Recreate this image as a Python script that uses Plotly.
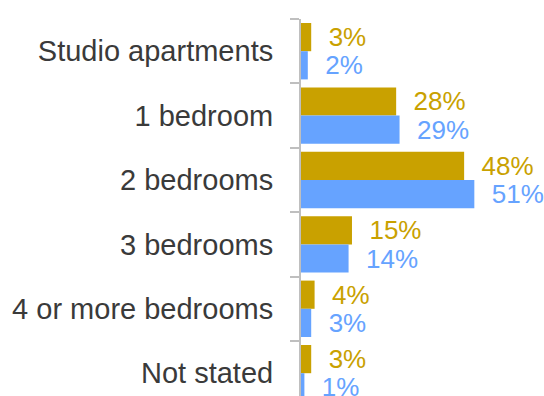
import plotly.graph_objects as go

# Dwelling size categories and share of dwellings (%) for the two series
categories = ["Studio apartments", "1 bedroom", "2 bedrooms", "3 bedrooms",
              "4 or more bedrooms", "Not stated"]
series_a = [3, 28, 48, 15, 4, 3]
series_b = [2, 29, 51, 14, 3, 1]

gold = "#C9A100"
blue = "#66A3FF"
pad = "\u00a0\u00a0"

fig = go.Figure()
for vals, col in ((series_a, gold), (series_b, blue)):
    fig.add_trace(go.Bar(
        x=vals, y=categories, orientation="h",
        marker=dict(color=col, line=dict(width=0)),
        text=[f"{pad}{v}%" for v in vals],
        textposition="outside",
        constraintext="none",
        cliponaxis=False,
        outsidetextfont=dict(color=col, size=26, family="Liberation Sans, Arial"),
        hoverinfo="skip",
        showlegend=False,
    ))

fig.update_layout(
    width=544, height=396,
    margin=dict(l=301, r=0, t=19, b=0),
    barmode="group", bargap=0.124, bargroupgap=0,
    plot_bgcolor="white", paper_bgcolor="white",
    font=dict(family="Liberation Sans, Arial", size=29, color="#3a3a3a"),
    xaxis=dict(range=[0, 71.5], visible=False, showgrid=False, zeroline=False),
    yaxis=dict(
        range=[5.354, -0.5],
        showline=True, linecolor="#BFBFBF", linewidth=2,
        ticks="outside", ticklen=9, tickwidth=2, tickcolor="#BFBFBF",
        tickson="boundaries", showgrid=False, zeroline=False,
        ticklabelstandoff=20,
    ),
)

fig.write_html("out.html")
